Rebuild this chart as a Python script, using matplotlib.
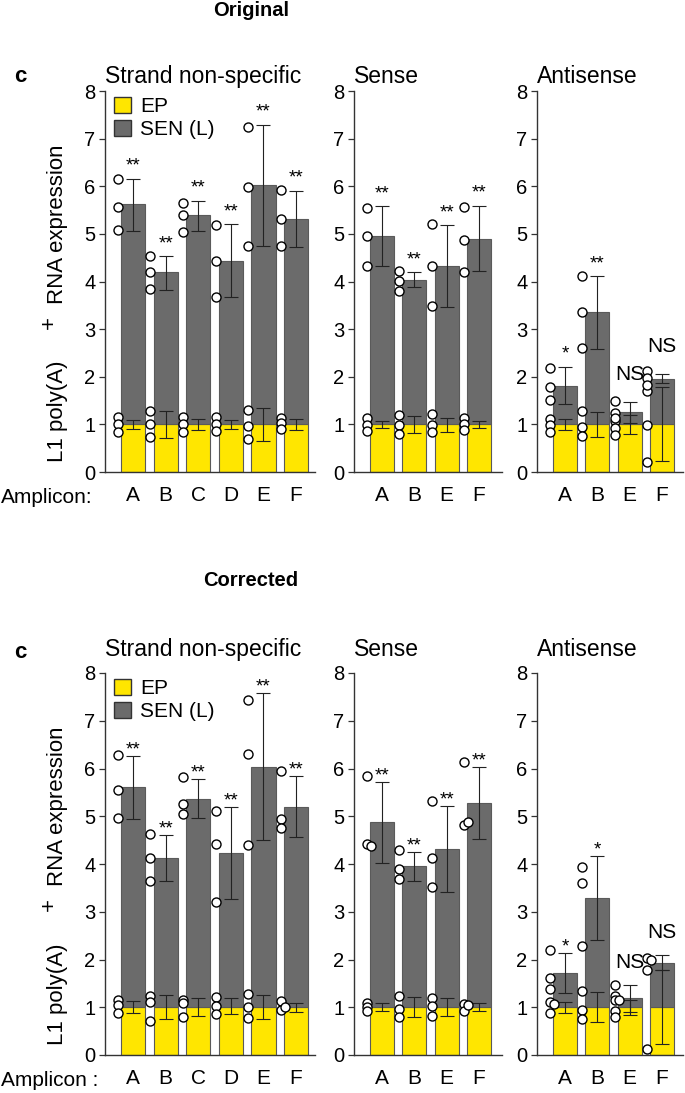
import matplotlib
matplotlib.use('Agg')
import matplotlib.pyplot as plt
from matplotlib.patches import Patch
import numpy as np

plt.rcParams['font.family'] = ['Liberation Sans', 'DejaVu Sans']

# amplicon names
amp_all = ['A', 'B', 'C', 'D', 'E', 'F']
amp_strand = ['A', 'B', 'E', 'F']

# ---------------- Original ----------------
# strand non-specific
orig_sns_ep = [1.0, 1.0, 1.0, 1.0, 1.0, 1.0]
orig_sns_ep_err = [[0.90, 1.10], [0.71, 1.28], [0.89, 1.12], [0.90, 1.10], [0.65, 1.34], [0.88, 1.12]]
orig_sns_ep_pts = [[1.15, 1.01, 0.85], [1.28, 1.01, 0.73], [1.16, 1.01, 0.85],
                   [1.16, 1.01, 0.86], [1.31, 0.97, 0.70], [1.14, 1.02, 0.90]]
orig_sns_sen = [5.62, 4.19, 5.39, 4.43, 6.02, 5.32]
orig_sns_sen_err = [[5.06, 6.16], [3.83, 4.53], [5.07, 5.69], [3.67, 5.20], [4.75, 7.29], [4.73, 5.91]]
orig_sns_sen_pts = [[6.16, 5.56, 5.09], [4.53, 4.19, 3.85], [5.65, 5.39, 5.04],
                    [5.18, 4.42, 3.67], [7.25, 5.99, 4.74], [5.92, 5.31, 4.75]]
orig_sns_sig = ['**', '**', '**', '**', '**', '**']

# sense
orig_s_ep = [1.0, 1.0, 1.0, 1.0]
orig_s_ep_err = [[0.92, 1.08], [0.82, 1.17], [0.85, 1.13], [0.92, 1.08]]
orig_s_ep_pts = [[1.13, 0.99, 0.87], [1.19, 0.99, 0.80], [1.22, 0.99, 0.83], [1.13, 1.01, 0.89]]
orig_s_sen = [4.95, 4.04, 4.33, 4.89]
orig_s_sen_err = [[4.33, 5.58], [3.88, 4.19], [3.47, 5.18], [4.21, 5.59]]
orig_s_sen_pts = [[5.55, 4.95, 4.33], [4.22, 4.01, 3.81], [5.21, 4.33, 3.49], [5.57, 4.88, 4.20]]
orig_s_sig = ['**', '**', '**', '**']

# antisense
orig_as_ep = [1.0, 1.0, 1.0, 1.0]
orig_as_ep_err = [[0.89, 1.12], [0.73, 1.26], [0.80, 1.20], [0.24, 1.78]]
orig_as_ep_pts = [[1.12, 0.99, 0.84], [1.29, 0.94, 0.75], [1.14, 0.92, 0.77], [1.83, 0.98, 0.21]]
orig_as_sen = [1.81, 3.35, 1.26, 1.96]
orig_as_sen_err = [[1.43, 2.21], [2.58, 4.11], [1.03, 1.48], [1.87, 2.06]]
orig_as_sen_pts = [[2.18, 1.78, 1.51], [4.11, 3.35, 2.61], [1.49, 1.24, 1.07], [2.13, 1.97, 1.71]]
orig_as_sig = ['*', '**', 'NS', 'NS']

# ---------------- Corrected ----------------
corr_sns_ep = [1.0, 1.0, 1.0, 1.0, 1.0, 1.0]
corr_sns_ep_err = [[0.87, 1.14], [0.75, 1.26], [0.82, 1.19], [0.85, 1.19], [0.75, 1.26], [0.91, 1.09]]
corr_sns_ep_pts = [[1.15, 1.05, 0.87], [1.23, 1.12, 0.72], [1.16, 1.09, 0.80],
                   [1.21, 1.03, 0.86], [1.28, 1.01, 0.77], [1.13, 0.94, 1.00]]
corr_sns_sen = [5.61, 4.13, 5.37, 4.23, 6.03, 5.20]
corr_sns_sen_err = [[4.94, 6.27], [3.64, 4.60], [4.97, 5.78], [3.27, 5.19], [4.50, 7.58], [4.57, 5.85]]
corr_sns_sen_pts = [[6.29, 5.54, 4.97], [4.62, 4.12, 3.64], [5.82, 5.26, 5.05],
                    [5.10, 4.42, 3.20], [7.44, 6.30, 4.40], [5.94, 4.94, 4.76]]
corr_sns_sig = ['**', '**', '**', '**', '**', '**']

corr_s_ep = [1.0, 1.0, 1.0, 1.0]
corr_s_ep_err = [[0.93, 1.09], [0.79, 1.22], [0.81, 1.19], [0.93, 1.08]]
corr_s_ep_pts = [[1.09, 1.01, 0.93], [1.24, 0.97, 0.80], [1.20, 1.03, 0.82], [1.07, 0.93, 1.05]]
corr_s_sen = [4.87, 3.95, 4.32, 5.27]
corr_s_sen_err = [[4.02, 5.71], [3.65, 4.25], [3.41, 5.22], [4.52, 6.03]]
corr_s_sen_pts = [[5.84, 4.41, 4.37], [4.29, 3.89, 3.69], [5.31, 4.13, 3.52], [6.14, 4.81, 4.87]]
corr_s_sig = ['**', '**', '**', '**']

corr_as_ep = [1.0, 1.0, 1.0, 1.0]
corr_as_ep_err = [[0.89, 1.12], [0.70, 1.31], [0.84, 1.16], [0.23, 1.78]]
corr_as_ep_pts = [[1.12, 0.89, 1.07], [1.35, 0.94, 0.75], [1.15, 0.93, 0.79], [0.12]]
corr_as_sen = [1.72, 3.28, 1.19, 1.93]
corr_as_sen_err = [[1.29, 2.14], [2.41, 4.16], [0.91, 1.47], [1.78, 2.09]]
corr_as_sen_pts = [[2.20, 1.61, 1.38], [3.94, 3.61, 2.28], [1.47, 1.24, 1.15], [2.04, 1.77, 2.00]]
corr_as_sig = ['*', '*', 'NS', 'NS']

YELLOW = '#FFE600'
GRAY = '#6B6B6B'
EDGE = '#5a5a5a'
INK = '#222222'

W, H = 685, 1093
fig = plt.figure(figsize=(W / 100, H / 100), dpi=100)


def add_ax(left, right, top, bottom):
    return fig.add_axes([left / W, 1 - bottom / H, (right - left) / W, (bottom - top) / H])


def draw(ax, names, ep, ep_err, ep_pts, sen, sen_err, sen_pts, sig, xlim, star_pad, ns_pad):
    x = np.arange(len(names))
    ep = np.array(ep)
    sen = np.array(sen)
    ax.bar(x, ep, width=0.74, color=YELLOW, edgecolor=EDGE, lw=0.8, zorder=2)
    ax.bar(x, sen - ep, bottom=ep, width=0.74, color=GRAY, edgecolor=EDGE, lw=0.8, zorder=2)
    for mean, err in [(sen, sen_err), (ep, ep_err)]:
        lo = np.array([e[0] for e in err])
        hi = np.array([e[1] for e in err])
        ax.errorbar(x, mean, yerr=[mean - lo, hi - mean], fmt='none', ecolor=INK,
                    elinewidth=0.8, capsize=5, capthick=0.8, zorder=3)
    # replicate points sit at the left edge of each bar
    for i in range(len(names)):
        pts = list(sen_pts[i]) + list(ep_pts[i])
        placed = []
        for v in pts:
            dx = -0.47
            if any(abs(v - p) < 0.065 for p in placed):
                dx += 0.14
            placed.append(v)
            ax.plot(x[i] + dx, v, 'o', ms=6.5, mfc='white', mec='black', mew=1.0,
                    zorder=4, clip_on=False)
        top = sen_err[i][1]
        if sig[i] == 'NS':
            ax.text(x[i], top + ns_pad, 'NS', ha='center', va='baseline', fontsize=15)
        else:
            ax.text(x[i], top + star_pad, sig[i], ha='center', va='baseline', fontsize=13.5)
    ax.set_xlim(*xlim)
    ax.set_ylim(0, 8)
    ax.set_xticks(x)
    ax.set_xticklabels(names)
    ax.set_yticks(range(0, 9))
    for s in ['top', 'right']:
        ax.spines[s].set_visible(False)
    for s in ['left', 'bottom']:
        ax.spines[s].set_linewidth(1.0)
        ax.spines[s].set_color('#333333')
    ax.tick_params(axis='y', direction='out', length=4, width=0.9, labelsize=14.5, pad=3,
                   color='#333333')
    ax.tick_params(axis='x', length=0, labelsize=15, pad=10)


columns = [(105, 315, (-0.86, 5.58)), (354, 502, (-0.87, 3.71)), (537, 683, (-0.87, 3.65))]
titles = ['Strand non-specific', 'Sense', 'Antisense']

panels = [
    dict(top=91, bottom=472, head='Original', head_y=10, c_y=77, title_pad=6,
         amp='Amplicon:', star_pad=0.17, ns_pad=0.45,
         groups=[(amp_all, orig_sns_ep, orig_sns_ep_err, orig_sns_ep_pts, orig_sns_sen,
                  orig_sns_sen_err, orig_sns_sen_pts, orig_sns_sig),
                 (amp_strand, orig_s_ep, orig_s_ep_err, orig_s_ep_pts, orig_s_sen,
                  orig_s_sen_err, orig_s_sen_pts, orig_s_sig),
                 (amp_strand, orig_as_ep, orig_as_ep_err, orig_as_ep_pts, orig_as_sen,
                  orig_as_sen_err, orig_as_sen_pts, orig_as_sig)]),
    dict(top=673, bottom=1055, head='Corrected', head_y=581, c_y=652, title_pad=12,
         amp='Amplicon :', star_pad=0.03, ns_pad=0.36,
         groups=[(amp_all, corr_sns_ep, corr_sns_ep_err, corr_sns_ep_pts, corr_sns_sen,
                  corr_sns_sen_err, corr_sns_sen_pts, corr_sns_sig),
                 (amp_strand, corr_s_ep, corr_s_ep_err, corr_s_ep_pts, corr_s_sen,
                  corr_s_sen_err, corr_s_sen_pts, corr_s_sig),
                 (amp_strand, corr_as_ep, corr_as_ep_err, corr_as_ep_pts, corr_as_sen,
                  corr_as_sen_err, corr_as_sen_pts, corr_as_sig)]),
]

for p in panels:
    fig.text(251 / W, 1 - p['head_y'] / H, p['head'], ha='center', va='center',
             fontsize=14.5, fontweight='bold',
             family=['Liberation Sans Narrow', 'Liberation Sans', 'DejaVu Sans'])
    fig.text(20 / W, 1 - p['c_y'] / H, 'c', ha='center', va='center', fontsize=16,
             fontweight='bold')
    for (left, right, xlim), title, g in zip(columns, titles, p['groups']):
        ax = add_ax(left, right, p['top'], p['bottom'])
        draw(ax, *g, xlim=xlim, star_pad=p['star_pad'], ns_pad=p['ns_pad'])
        ax.set_title(title, loc='left', fontsize=16.5, pad=p['title_pad'])
        if title == 'Strand non-specific':
            handles = [Patch(facecolor=YELLOW, edgecolor='#333333', lw=1.0, label='EP'),
                       Patch(facecolor=GRAY, edgecolor='#333333', lw=1.0, label='SEN (L)')]
            ax.legend(handles=handles, loc='upper left', bbox_to_anchor=(0.043, 0.985),
                      frameon=False, fontsize=15, handlelength=0.8, handleheight=0.8,
                      handletextpad=0.45, labelspacing=0.2, borderaxespad=0, borderpad=0)
            ax.text(-0.224, 0.16, 'L1 poly(A)', rotation=90, ha='center', va='center',
                    fontsize=16, transform=ax.transAxes)
            ax.text(-0.267, 0.393, '+', rotation=90, ha='center', va='center',
                    fontsize=16, transform=ax.transAxes)
            ax.text(-0.224, 0.651, 'RNA expression', rotation=90, ha='center',
                    va='center', fontsize=16, transform=ax.transAxes)
            ax.text(-0.495, -0.067, p['amp'], ha='left', va='center', fontsize=15,
                    transform=ax.transAxes)

fig.savefig('out.png', dpi=100)
